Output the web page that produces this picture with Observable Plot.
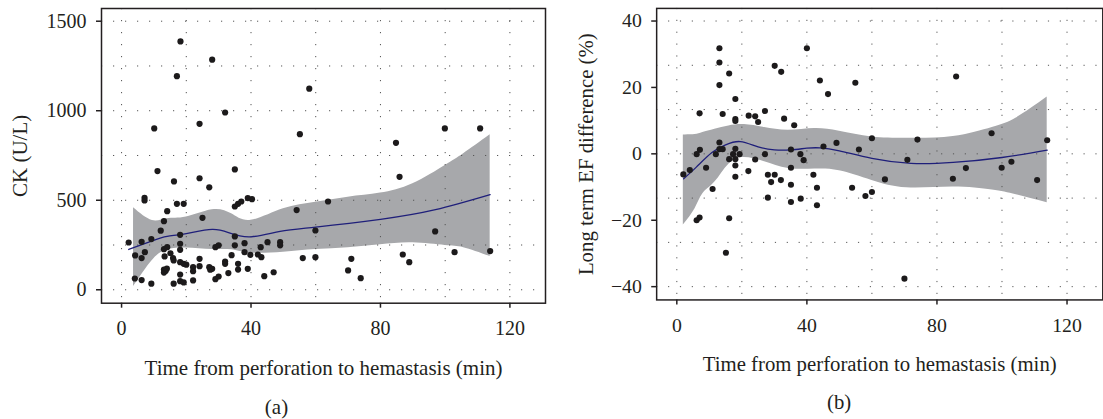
<!DOCTYPE html>
<html><head><meta charset="utf-8">
<script src="https://cdn.jsdelivr.net/npm/d3@7"></script>
<script src="https://cdn.jsdelivr.net/npm/@observablehq/plot@0.6"></script>
<style>
html,body{margin:0;padding:0;overflow:hidden;background:#fff;width:1103px;height:419px}
#a{position:absolute;left:0;top:0}
#b{position:absolute;left:551px;top:0}
</style></head><body><div id="a"></div><div id="b"></div>
<script>
// ---------- Panel (a): CK ----------
const ckTime = [18.2,28.0,17.1,32.0,10.1,24.1,
  58.0,55.1,84.8,99.9,110.8,
  85.9,54.1,63.8,40.3,59.9,96.9,39.8,42.1,43.0,43.2,45.1,49.0,49.0,56.0,59.9,44.1,47.0,71.0,70.0,73.9,86.9,88.9,102.9,113.9,
  2.2,4.2,4.1,6.2,6.2,6.2,7.2,7.1,7.1,9.2,9.2,11.1,12.1,13.1,14.1,13.1,14.1,15.1,13.3,16.2,17.1,19.2,18.1,18.1,18.1,15.9,16.1,
  13.1,13.6,13.1,14.0,16.1,18.1,18.1,19.2,18.1,19.2,20.0,22.1,22.1,22.1,24.1,24.1,24.1,27.1,25.0,27.1,28.0,27.4,29.0,30.0,29.0,30.0,
  32.0,32.0,33.0,34.0,35.0,35.0,35.0,35.0,36.0,37.0,36.0,36.0,38.0,38.0,39.0,39.0];
const ckValue = [1387,1285,1193,990,901,927,
  1123,869,821,901,901,
  631,445,493,506,331,326,195,197,238,182,266,266,248,177,182,76,98,173,108,65,197,154,210,216,
  264,192,63,54,177,268,210,514,499,34,283,663,330,383,439,227,238,204,186,605,480,480,307,257,223,177,164,
  113,105,96,118,34,85,48,41,154,145,140,126,104,52,173,132,623,572,402,126,117,112,59,74,238,248,
  158,145,93,193,248,298,672,465,480,493,145,113,260,210,512,117];
const ckFitTime = [2.2,9.7,14.1,20,28,33.5,40,49,60,80,97,113.9];
const ckFit     = [225,275,298,314,337,316,296,326,350,393,447,531];
const ckBandTime = [3.7,9.5,14.1,20,28,34,40,50,60,70,80,90,100,105.7,113.9];
const ckLow      = [18,164,223,233,225,223,205,210,225,235,251,262,247,235,186];
const ckHigh     = [458,387,397,406,447,424,388,452,489,517,540,592,694,760,866];
const ckTicks = [0,500,1000,1500];
const ckGrid  = [0,250,500,750,1000,1250,1500];

// ---------- Panel (b): Long term EF difference ----------
const efTime = [7.0,13.1,13.1,13.1,16.1,14.1,18.0,18.0,18.0,22.1,24.1,25.0,27.1,30.1,32.1,33.0,36.1,40.0,44.0,46.5,
  7.1,6.1,13.1,13.1,14.1,12.0,18.0,17.3,19.3,27.1,35.1,38.0,45.1,
  2.0,4.0,9.0,11.0,6.1,7.0,16.1,16.1,15.1,18.0,18.0,18.0,22.0,24.1,28.0,28.0,29.0,30.1,32.0,35.1,35.1,35.1,38.1,39.0,42.0,43.1,43.1,
  54.9,85.9,49.1,56.0,60.0,74.0,96.8,113.9,70.9,53.9,58.0,60.0,64.0,70.0,84.9,88.9,99.9,102.9,110.8];
const efValue = [12.2,31.8,27.5,20.7,24.2,12.0,16.5,10.5,9.9,11.5,11.3,9.6,12.9,26.5,24.7,10.6,8.6,31.8,22.1,18.0,
  1.2,-0.1,3.4,1.4,1.4,-0.1,1.5,-0.1,-0.1,-0.1,1.3,-0.1,2.2,
  -6.2,-4.9,-4.2,-10.6,-20.0,-19.2,-1.6,-19.4,-29.8,-1.6,-3.5,-6.9,-5.2,-1.7,-6.3,-13.2,-8.5,-6.3,-7.9,-4.2,-9.3,-14.5,-13.5,-1.9,-6.3,-10.2,-15.5,
  21.4,23.3,3.3,1.3,4.7,4.3,6.2,4.1,-1.8,-10.2,-12.7,-11.5,-7.7,-37.6,-7.5,-4.3,-4.2,-2.4,-7.9];
const efFitTime = [2.1,6,10.8,15,19.5,25,30,35,40,44,50,60,72,85,100,113.9];
const efFit     = [-7.5,-4.0,0.4,2.7,3.7,2.1,1.2,1.2,1.7,1.8,0.9,-1.4,-2.9,-2.6,-1.1,1.1];
const efBandTime = [2.0,5.6,8,11.7,16,20.8,27,34.3,42.4,50,60,70.7,85,97,104.4,113.9];
const efLow      = [-21.4,-16.5,-12.0,-8.5,-3.1,-1.1,-2.4,-4.4,-4.6,-5.1,-8.0,-10.2,-10.0,-10.9,-12.3,-14.7];
const efHigh     = [5.7,5.8,6.4,7.4,8.4,8.8,7.9,7.1,7.6,6.8,5.1,4.7,5.2,7.9,10.8,17.1];
const efTicks = [-40,-20,0,20,40];
const efGrid  = [-40,-80/3,-40/3,0,40/3,80/3,40];

// ---------- shared ----------
const xTicks = [0,40,80,120];
const xGrid  = [0,20,40,60,80,100,120];
const xTitle = "Time from perforation to hemastasis (min)";

const FONT = "'Liberation Serif', 'DejaVu Serif', serif";
const INK = "#231f20";

function panel(o) {
  const pts  = o.t.map((t, i) => ({t, v: o.v[i]}));
  const fit  = o.fitT.map((t, i) => ({t, f: o.fit[i]}));
  const band = o.bandT.map((t, i) => ({t, lo: o.lo[i], hi: o.hi[i]}));
  const dotted = {stroke: "#555", strokeOpacity: 1, strokeWidth: 1, strokeDasharray: "1.2,10.8"};
  return Plot.plot({
    width: o.width, height: 419,
    marginLeft: o.ml, marginRight: o.mr, marginTop: 8, marginBottom: 116.3,
    style: {fontFamily: FONT, fontSize: "20px", color: INK, background: "white", overflow: "visible"},
    x: {domain: [-6.2, 131]},
    y: {domain: o.yDomain},
    marks: [
      Plot.areaY(band, {x: "t", y1: "lo", y2: "hi", fill: "#a7a8ab", curve: "natural"}),
      Plot.gridX(xGrid, dotted),
      Plot.gridY(o.yGrid, dotted),
      Plot.lineY(fit, {x: "t", y: "f", stroke: "#1f1f7a", strokeWidth: 1.3, curve: "natural"}),
      Plot.dot(pts, {x: "t", y: "v", r: 3.1, fill: "#1c1a1b"}),
      Plot.frame({stroke: INK, strokeWidth: 1.5}),
      Plot.axisX(xTicks, {tickSize: 5, tickPadding: 13, tickFormat: d3.format("d"), label: null, fontSize: 20, stroke: INK, strokeWidth: 1.5}),
      Plot.axisY(o.yTicks, {tickSize: 5, tickPadding: 10, tickFormat: d3.format("d"), label: null, fontSize: 20, stroke: INK, strokeWidth: 1.5}),
      Plot.text([o.yLabel], {frameAnchor: "left", dx: o.yLabelDx, rotate: -90, fontSize: 21, textAnchor: "middle", lineAnchor: "middle", fill: INK}),
      Plot.text([xTitle], {frameAnchor: "bottom", dy: 65, fontSize: 21, lineAnchor: "middle", fill: INK}),
      Plot.text([o.caption], {frameAnchor: "bottom", dx: o.capDx, dy: 104, fontSize: 21, lineAnchor: "middle", fill: INK})
    ]
  });
}

document.getElementById("a").append(panel({
  width: 551, ml: 101, mr: 6,
  t: ckTime, v: ckValue, fitT: ckFitTime, fit: ckFit, bandT: ckBandTime, lo: ckLow, hi: ckHigh,
  yDomain: [-75, 1571], yTicks: ckTicks, yGrid: ckGrid,
  yLabel: "CK (U/L)", yLabelDx: -81, caption: "(a)", capDx: -47
}));
document.getElementById("b").append(panel({
  width: 558, ml: 106.3, mr: 0.7,
  t: efTime, v: efValue, fitT: efFitTime, fit: efFit, bandT: efBandTime, lo: efLow, hi: efHigh,
  yDomain: [-44, 43.8], yTicks: efTicks, yGrid: efGrid,
  yLabel: "Long term EF difference (%)", yLabelDx: -71, caption: "(b)", capDx: -41
}));
</script>
</body></html>
